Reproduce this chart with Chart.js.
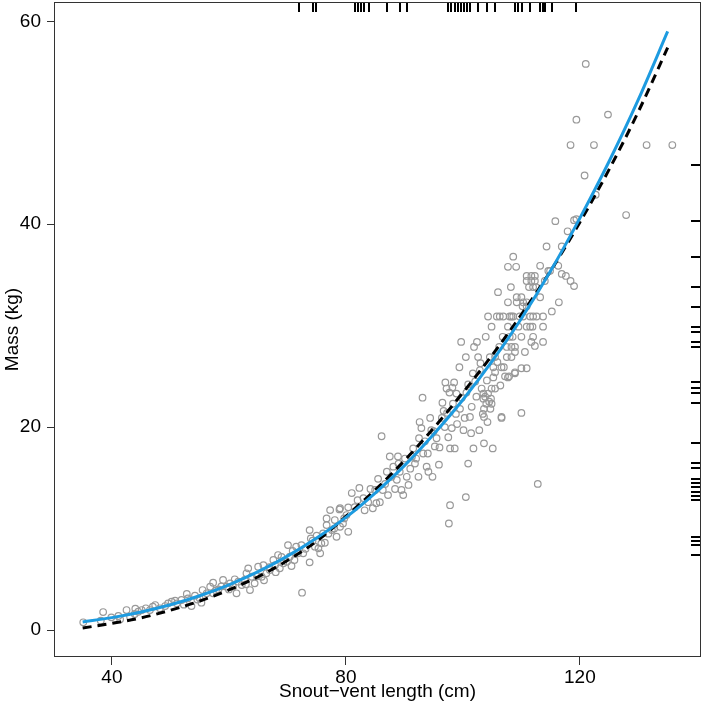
<!DOCTYPE html>
<html>
<head>
<meta charset="utf-8">
<script src="https://cdn.jsdelivr.net/npm/chart.js@4"></script>
<style>
  html, body { margin: 0; padding: 0; background: #fff; }
</style>
</head>
<body>
<canvas id="chart" width="704" height="709"></canvas>
<script>
// Snout-vent length (cm) and mass (kg) of each animal
const svl = [
  35.1, 38.5, 38.1, 39.9, 41.1, 41.4, 42.5, 43.1, 43.9, 44.5, 45.1, 45.8, 46.5, 47.4, 48.2, 49.1, 49.6, 50.2, 51.1, 51.9,
  52.8, 53.0, 53.6, 54.2, 55.0, 55.5, 55.3, 56.2, 56.8, 57.3, 57.3, 58.2, 59.0, 59.6, 60.2, 60.7, 61.3, 61.6, 62.2, 62.7,
  63.0, 63.3, 63.6, 63.9, 64.4, 65.0, 65.6, 65.9, 66.4, 67.0, 67.6, 67.9, 68.4, 68.7, 69.3, 69.9, 70.1, 70.4, 70.7, 71.5,
  71.8, 72.4, 72.5, 72.7, 73.8, 73.8, 74.0, 74.7, 75.3, 75.6, 75.8, 76.1, 76.7, 77.3, 77.6, 78.1, 78.4, 78.9, 79.0, 79.5,
  80.1, 80.4, 80.4, 44.0, 47.0, 50.8, 52.3, 54.6, 57.8, 58.7, 60.0, 61.0, 62.9, 64.8, 66.0, 66.9, 68.0, 69.0, 70.9, 71.2,
  73.1, 74.3, 75.0, 76.4, 77.0, 78.0, 79.7,
  76.7, 79.0, 81.0, 81.5, 82.3, 83.0, 83.2, 83.8, 85.0, 85.2, 85.5, 85.8, 86.1, 86.7, 87.2, 87.5, 87.8, 88.1, 88.7, 88.9,
  89.2, 89.5, 89.8, 90.1, 90.4, 91.0, 91.5, 91.8, 92.4, 92.5, 92.6, 92.9, 93.1, 93.2, 93.8, 94.1, 94.4, 94.6, 94.8, 95.2,
  95.5, 95.9, 96.4, 96.5, 96.9, 97.0, 97.2, 97.5, 97.7, 97.8, 97.8, 98.1, 98.2, 98.3, 98.6, 98.8, 98.9, 99.4, 99.5, 99.7,
  100.1, 100.3, 100.5, 100.5, 100.6, 100.9, 101.2, 101.5, 101.7, 101.8, 101.9, 102.1, 102.3, 102.4, 102.6, 102.8, 102.9, 103.2, 103.4, 103.6,
  103.8, 103.9, 104.1, 104.2, 104.3, 104.5, 104.6, 104.7, 104.9, 105.1, 105.2, 105.5, 105.8, 106.0, 106.2, 106.3, 106.6, 106.8, 106.9, 107.0,
  107.2, 107.5, 107.7, 107.7, 107.9, 108.2, 108.3, 108.5, 108.6, 108.9, 109.1, 109.2, 109.5,
  82.0, 84.2, 84.6, 86.3, 87.0, 88.4, 89.0, 90.7, 91.3, 92.0, 93.5, 94.0, 95.0, 96.0, 96.7, 97.3, 98.5, 99.0, 99.8, 100.9,
  101.4, 103.0, 105.9, 106.4,
  121.0, 124.8, 119.4, 118.4, 122.4, 131.4, 135.8, 120.8, 122.7, 127.9, 115.8, 119.0, 119.4, 117.9, 114.3, 116.9, 113.2, 116.3, 114.6, 114.9,
  116.9, 117.6, 118.4, 119.0, 110.9, 111.7, 112.3, 110.9, 111.7, 112.3, 111.3, 112.0, 112.5, 114.0, 113.2, 110.0, 110.3, 110.9, 109.2, 110.2,
  110.9, 116.4, 115.2, 108.0, 108.6, 109.7, 110.3, 111.5, 112.0, 112.6, 113.7, 107.7, 110.9, 111.5, 111.9, 113.7, 108.0, 110.0, 112.0, 113.7,
  111.7, 112.3, 108.3, 108.9, 110.6, 108.9, 105.5, 107.5, 108.3, 106.6, 110.0, 110.9, 105.5, 108.9, 107.7, 105.2, 104.9, 103.5, 104.3, 103.5,
  104.8, 104.0, 104.9, 103.6, 103.6, 106.6, 110.0, 112.8, 97.6
];
const mass = [
  0.76, 1.77, 0.92, 1.25, 1.38, 1.05, 1.97, 1.31, 1.58, 1.8, 1.97, 2.14, 1.97, 2.46, 2.14, 2.36, 2.63, 2.79, 2.63, 2.96,
  3.55, 3.12, 2.36, 3.38, 3.12, 3.94, 2.69, 3.62, 4.27, 4.66, 3.62, 4.01, 4.93, 4.27, 4.6, 4.27, 3.62, 4.76, 4.43, 4.93,
  5.59, 6.08, 3.94, 5.25, 4.6, 6.24, 5.25, 6.4, 5.59, 5.91, 6.9, 6.4, 7.39, 6.08, 6.57, 6.73, 8.37, 7.22, 6.31, 8.21,
  7.56, 8.37, 3.68, 7.56, 9.85, 6.67, 9.03, 8.21, 8.05, 7.56, 8.54, 9.53, 10.34, 11.82, 9.85, 10.84, 9.19, 11.89, 10.18, 10.51,
  11.33, 12.09, 9.68, 2.1, 2.3, 2.9, 2.5, 3.0, 3.9, 4.3, 4.0, 5.0, 4.5, 5.3, 4.9, 6.2, 5.7, 7.2, 7.8, 6.9,
  8.0, 8.8, 9.3, 8.6, 9.5, 10.0, 11.0,
  11.0, 12.0, 13.5, 12.1, 14.0, 13.0, 11.8, 12.6, 13.8, 12.5, 14.9, 12.6, 19.1, 14.4, 13.3, 17.1, 15.1, 16.1, 14.8, 17.1,
  15.6, 13.8, 13.3, 16.9, 15.1, 15.9, 17.9, 16.4, 15.1, 18.9, 20.5, 19.9, 22.9, 17.4, 16.1, 15.6, 20.9, 19.7, 15.1, 18.1,
  18.9, 16.3, 20.9, 22.4, 20.0, 24.4, 23.8, 19.0, 23.4, 17.9, 12.3, 19.9, 23.9, 22.3, 17.9, 21.3, 23.3, 25.9, 21.8, 28.4,
  19.7, 20.9, 26.9, 13.1, 23.4, 16.4, 21.0, 22.0, 25.3, 17.9, 27.9, 24.5, 23.0, 28.4, 26.9, 19.7, 25.6, 23.8, 21.3, 18.4,
  23.0, 28.9, 24.6, 20.5, 30.9, 22.5, 26.9, 21.8, 29.9, 17.9, 25.9, 23.8, 30.9, 33.3, 27.9, 30.9, 20.9, 28.9, 30.9, 25.9,
  25.0, 27.9, 35.8, 32.3, 25.0, 33.8, 30.9, 28.9, 36.8, 25.3, 35.8, 32.8, 29.9,
  12.8, 13.9, 12.0, 13.8, 15.6, 13.9, 16.4, 14.3, 17.1, 16.9, 18.6, 17.4, 19.6, 18.0, 21.6, 21.4, 24.4, 20.3, 22.9, 24.2,
  19.4, 26.3, 26.4, 24.1,
  55.8, 50.8, 50.3, 47.8, 47.8, 47.8, 47.8, 44.8, 42.9, 40.9, 40.3, 40.4, 40.5, 39.3, 37.8, 37.8, 35.9, 35.9, 35.4, 35.4,
  35.1, 34.9, 34.4, 33.9, 34.9, 34.9, 34.9, 34.4, 34.4, 34.4, 33.8, 33.8, 33.8, 34.4, 32.8, 32.8, 32.3, 32.3, 32.3, 31.9,
  31.9, 32.3, 31.4, 30.9, 30.9, 30.9, 30.9, 30.9, 30.9, 30.9, 30.9, 29.9, 29.9, 29.9, 29.9, 29.9, 28.9, 28.9, 28.9, 28.4,
  28.4, 28.0, 27.9, 27.9, 27.4, 27.4, 26.9, 26.9, 26.9, 25.9, 25.8, 25.8, 25.4, 25.4, 24.9, 24.9, 23.8, 23.3, 23.3, 22.8,
  22.8, 22.3, 22.3, 21.8, 21.0, 21.0, 21.4, 14.4, 10.5
];

const curveSvl = [35, 40, 45, 50, 55, 60, 65, 70, 75, 80, 85, 90, 95, 100, 105, 110, 115, 120, 125, 130, 135];
const fitBlue = [0.8, 1.22, 1.78, 2.49, 3.38, 4.46, 5.75, 7.28, 9.07, 11.1, 13.5, 16.2, 19.3, 22.7, 26.5, 30.7, 35.4, 40.6, 46.2, 52.3, 59.0];
const fitDashed = [0.2, 0.65, 1.2, 1.95, 2.85, 3.95, 5.25, 6.85, 8.75, 11.2, 13.8, 16.7, 19.9, 23.4, 27.1, 31.1, 35.4, 40.2, 45.4, 51.1, 57.4];

// rug marks
const rugSvl = [72.0, 74.4, 74.9, 81.5, 82.1, 82.6, 83.1, 83.9, 87.0, 89.2, 90.4, 97.4, 98.0, 98.6, 99.2, 99.7, 100.2, 100.7,
  101.2, 102.6, 104.1, 105.5, 108.9, 109.4, 110.1, 111.5, 113.2, 113.7, 114.0, 115.2, 119.3];
const rugMass = [45.8, 40.3, 36.8, 33.8, 31.8, 29.9, 29.4, 28.4, 27.9, 24.4, 23.9, 23.4, 22.4, 18.4, 16.5, 16.0, 14.9, 14.5,
  14.1, 13.6, 13.2, 12.8, 9.2, 8.8, 8.4, 7.4];

const xTicks = [40, 80, 120];
const yTicks = [0, 20, 40, 60];

Chart.defaults.font.family = '"Liberation Sans", Arial, sans-serif';
Chart.defaults.font.size = 19;
Chart.defaults.color = "#000";

// box round the plot plus the rug ticks on top and right
const frameAndRugs = {
  id: "frameAndRugs",
  afterDatasetsDraw(chart) {
    const { ctx, chartArea: a, scales } = chart;
    ctx.save();
    ctx.strokeStyle = "#000";
    ctx.lineWidth = 2;
    rugSvl.forEach(v => {
      const px = Math.round(scales.x.getPixelForValue(v));
      ctx.beginPath();
      ctx.moveTo(px, a.top);
      ctx.lineTo(px, a.top + 10);
      ctx.stroke();
    });
    rugMass.forEach(v => {
      const py = Math.round(scales.y.getPixelForValue(v));
      ctx.beginPath();
      ctx.moveTo(a.right, py);
      ctx.lineTo(a.right - 10, py);
      ctx.stroke();
    });
    ctx.lineWidth = 1;
    ctx.strokeStyle = "#333";
    ctx.strokeRect(a.left + 0.5, a.top + 0.5, a.width - 1, a.height - 1);
    ctx.restore();
  },
};

new Chart(document.getElementById("chart"), {
  type: "scatter",
  data: {
    datasets: [
      {
        label: "Mass",
        data: svl.map((v, i) => ({ x: v, y: mass[i] })),
        pointRadius: 3.3,
        pointBorderWidth: 1.2,
        pointBorderColor: "#999",
        pointBackgroundColor: "rgba(0,0,0,0)",
        order: 3,
      },
      {
        type: "line",
        label: "Fit",
        data: curveSvl.map((v, i) => ({ x: v, y: fitBlue[i] })),
        borderColor: "#1d9be0",
        borderWidth: 3,
        pointRadius: 0,
        cubicInterpolationMode: "monotone",
        fill: false,
        order: 1,
      },
      {
        type: "line",
        label: "Fit 2",
        data: curveSvl.map((v, i) => ({ x: v, y: fitDashed[i] })),
        borderColor: "#000",
        borderWidth: 3,
        borderDash: [9, 6],
        pointRadius: 0,
        cubicInterpolationMode: "monotone",
        fill: false,
        order: 2,
      },
    ],
  },
  options: {
    responsive: false,
    animation: false,
    devicePixelRatio: 1,
    layout: { padding: { top: 2, right: 3, left: 0, bottom: 0 }, autoPadding: false },
    plugins: {
      legend: { display: false },
      tooltip: { enabled: false },
    },
    scales: {
      x: {
        type: "linear",
        min: 30.1,
        max: 140.7,
        afterBuildTicks: s => { s.ticks = xTicks.map(v => ({ value: v })); },
        afterFit: s => { s.height = 52; s.paddingLeft = 0; s.paddingRight = 0; },
        grid: { drawOnChartArea: false, drawTicks: true, tickLength: 8, color: "#333" },
        border: { display: false },
        ticks: { padding: 1, maxRotation: 0, color: "#000" },
        title: { display: true, text: "Snout\u2212vent length (cm)", padding: { top: 0, bottom: 6 } },
      },
      y: {
        type: "linear",
        min: -2.66,
        max: 61.9,
        afterBuildTicks: s => { s.ticks = yTicks.map(v => ({ value: v })); },
        afterFit: s => { s.width = 54; s.paddingTop = 0; s.paddingBottom = 0; },
        grid: { drawOnChartArea: false, drawTicks: true, tickLength: 7, color: "#333" },
        border: { display: false },
        ticks: { padding: 6, color: "#000" },
        title: { display: true, text: "Mass (kg)", padding: { top: 1, bottom: 0 } },
      },
    },
  },
  plugins: [frameAndRugs],
});
</script>
</body>
</html>
